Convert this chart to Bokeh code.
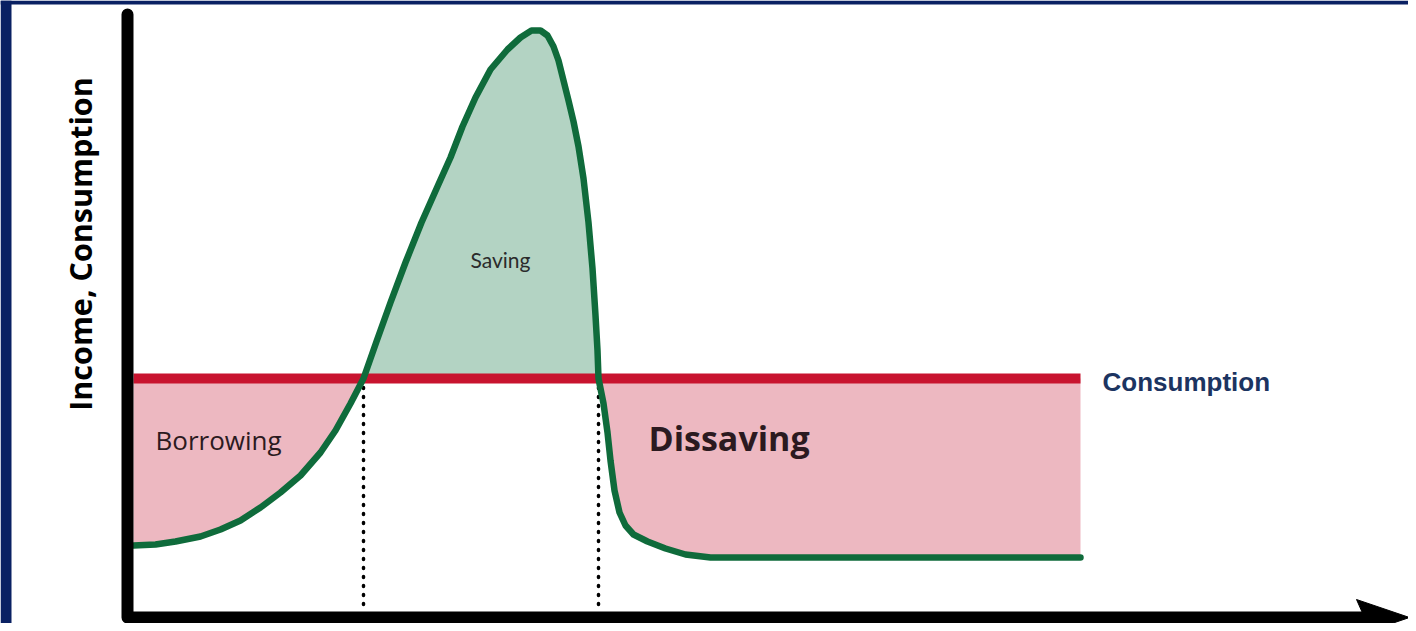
import numpy as np
from bokeh.plotting import figure
from bokeh.models import Range1d, BoxAnnotation
from bokeh.core.properties import value
from bokeh.embed import file_html
from bokeh.resources import INLINE

# ---- data (life-cycle income vs. constant consumption, arbitrary units) ----
age = [0.6, 2.8, 4.8, 7.3, 9.3, 11.3, 13.3, 15.3, 17.3, 19.3, 20.8, 22.3, 23.6,
       24.9, 26.3, 27.8, 29.4, 31.0, 32.3, 33.5, 34.8, 36.3, 38.0, 39.3, 40.4,
       41.3, 42.0, 42.6, 43.1, 43.6, 44.1, 44.6, 45.1, 45.6, 46.1, 46.5, 46.8,
       47.0, 47.1, 47.6, 48.0, 48.3, 48.7, 49.2, 49.8, 50.6, 52.0, 53.8, 55.8,
       58.3, 65.3, 95.3]
income = [14.4, 14.6, 15.2, 16.2, 17.6, 19.4, 22.0, 25.0, 28.4, 33.0, 37.4, 42.8,
          47.8, 55.2, 63.0, 71.0, 79.0, 86.2, 92.0, 98.2, 104.0, 109.6, 113.6,
          116.0, 117.4, 117.4, 116.4, 114.2, 111.4, 107.4, 103.4, 99.2, 94.2,
          87.8, 79.0, 69.8, 60.4, 53.4, 47.8, 42.8, 37.0, 31.4, 25.4, 21.0, 18.4,
          16.6, 15.2, 13.8, 12.6, 12.0, 12.0, 12.0]
consumption_level = 47.8
consumption_span = [0.6, 95.3]
crossings = [23.6, 47.1]
region_labels = ["Borrowing", "Saving", "Dissaving"]
series_label = "Consumption"
y_title = "Income, Consumption"

NAVY = "#0a2163"
GREEN = "#0f6b3b"
RED = "#c8142f"
PINK = "#edb8c1"
SAGE = "#b3d3c3"

p = figure(width=1408, height=623, output_backend="svg", toolbar_location=None,
           x_range=Range1d(-12.7, 128.1), y_range=Range1d(-1.2, 123.4),
           x_axis_location=None, y_axis_location=None,
           min_border=0, min_border_left=0, min_border_right=0,
           min_border_top=0, min_border_bottom=0)
p.grid.visible = False
p.outline_line_color = None
p.background_fill_color = "white"

x = np.array(age)
y = np.array(income)
i1 = age.index(crossings[0])
i2 = age.index(crossings[1])

# shaded regions
p.varea(x=x[:i1 + 1], y1=y[:i1 + 1], y2=consumption_level, fill_color=PINK)
p.varea(x=x[i1:i2 + 1], y1=y[i1:i2 + 1], y2=consumption_level, fill_color=SAGE)
p.varea(x=x[i2:], y1=y[i2:], y2=consumption_level, fill_color=PINK)

# consumption line
p.line(consumption_span, [consumption_level, consumption_level], line_color=RED,
       line_width=10)

# dotted drop lines
p.segment(x0=crossings, y0=[consumption_level - 1.8] * 2, x1=crossings,
          y1=[1.5] * 2, line_color="black", line_width=3.5, line_dash="1 8",
          line_cap="round")

# income curve
p.line(x, y, line_color=GREEN, line_width=6.5, line_join="round", line_cap="round")

# axes drawn as thick L with arrow head
p.line([0, 0, 123.4], [120.6, 0, 0], line_color="black", line_width=12,
       line_join="round", line_cap="round")
p.patch([122.9, 128.2, 122.9, 123.7], [3.6, 0, -3.6, 0], fill_color="black",
        line_color="black", line_width=1)

# labels
font = value("Open Sans")
p.text(x=[2.8], y=[35.6], text=[region_labels[0]], text_font=font,
       text_font_size="26px", text_color="#2b1a20", text_baseline="alphabetic",
       text_align="left")
p.text(x=[37.3], y=[71.6], text=[region_labels[1]],
       text_font=value("Lato"), text_font_size="21px",
       text_color="#2b2b2b", text_baseline="alphabetic", text_align="center")
p.text(x=[52.1], y=[36.0], text=[region_labels[2]], text_font=font,
       text_font_size="34px", text_font_style="bold", text_color="#2b1a20",
       text_baseline="alphabetic", text_align="left")
p.text(x=[97.5], y=[47.2], text=[series_label], text_font=value("Liberation Sans"),
       text_font_size="26px", text_font_style="bold", text_color="#1c3461",
       text_baseline="alphabetic", text_align="left")
p.text(x=[-4.8], y=[74.7], text=[y_title], text_font=font, text_font_size="30.5px",
       text_font_style="bold", text_color="black", text_baseline="alphabetic",
       text_align="center", angle=np.pi / 2)

# navy frame edges (left and top)
p.add_layout(BoxAnnotation(left=-12.7, right=-11.6, fill_color=NAVY,
                           fill_alpha=1, line_alpha=0))
p.add_layout(BoxAnnotation(bottom=122.6, top=123.4, fill_color=NAVY,
                           fill_alpha=1, line_alpha=0))

open("out.html", "w").write(file_html(p, INLINE))
